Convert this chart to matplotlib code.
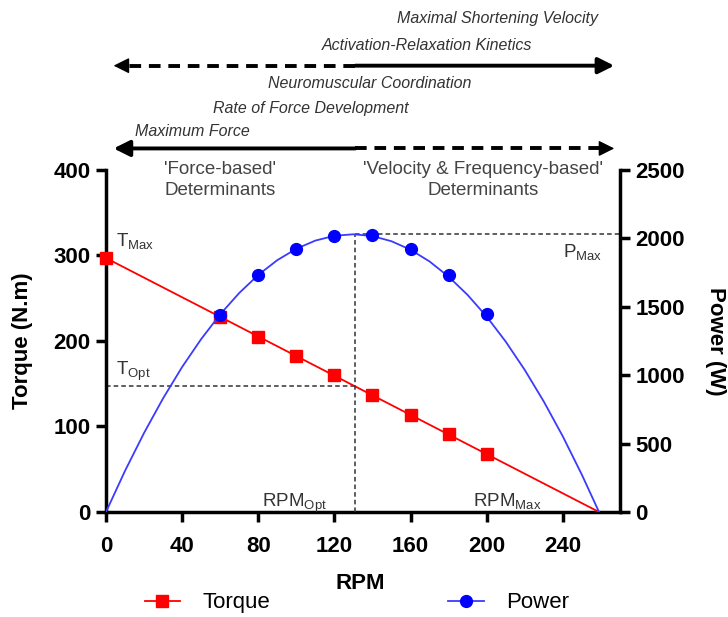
import matplotlib.pyplot as plt
from matplotlib.lines import Line2D
import matplotlib.transforms as mtransforms

plt.rcParams['font.family'] = ['Liberation Sans', 'DejaVu Sans']
plt.rcParams['mathtext.fontset'] = 'custom'
plt.rcParams['mathtext.rm'] = 'Liberation Sans'

# torque (N.m) markers vs RPM
rpm_torque = [0, 60, 80, 100, 120, 140, 160, 180, 200]
torque = [297, 228, 205, 182, 160, 137, 114, 91, 68]
# straight torque-velocity line, T_max -> RPM_max
rpm_torque_line = [0, 259]
torque_line = [297, 0]

# power (W) markers vs RPM
rpm_power = [60, 80, 100, 120, 140, 160, 180, 200]
power = [1440, 1730, 1920, 2020, 2025, 1925, 1730, 1445]

# power curve
rpm_curve = [0, 10, 20, 30, 40, 50, 60, 70, 80, 90, 100, 110, 120, 130,
             140, 150, 160, 170, 180, 190, 200, 210, 220, 230, 240, 250, 259]
power_curve = [0, 301, 578, 831, 1060, 1264, 1445, 1601, 1733, 1841, 1924,
               1984, 2019, 2030, 2017, 1979, 1917, 1831, 1720, 1586, 1428,
               1245, 1038, 807, 552, 272, 0]

t_opt = 147
rpm_opt = 131
p_max = 2030

x_ticks = [0, 40, 80, 120, 160, 200, 240]
torque_ticks = [0, 100, 200, 300, 400]
power_ticks = [0, 500, 1000, 1500, 2000, 2500]

top_labels = ['Maximal Shortening Velocity', 'Activation-Relaxation Kinetics',
              'Neuromuscular Coordination', 'Rate of Force Development',
              'Maximum Force']

fig = plt.figure(figsize=(7.28, 6.17), dpi=100)
ax = fig.add_axes([0.1456, 0.1702, 0.706, 0.5543])
ax2 = ax.twinx()

red = '#ff0000'
blue = '#0000ff'
grey = '#333333'

# torque
ax.plot(rpm_torque_line, torque_line, color=red, lw=1.3, zorder=3)
ax.plot(rpm_torque, torque, 's', color=red, ms=8.5, zorder=4, clip_on=False)

# power
ax2.plot(rpm_curve, power_curve, color='#3b3bff', lw=1.3, zorder=3)
ax2.plot(rpm_power, power, 'o', color=blue, ms=8.5, zorder=5)

# optimum / max guide lines
dash = (0, (3, 2))
ax.plot([0, rpm_opt], [t_opt, t_opt], color=grey, lw=1.1, ls=dash)
ax2.plot([rpm_opt, rpm_opt], [0, p_max], color=grey, lw=1.1, ls=dash)
ax2.plot([rpm_opt, 270], [p_max, p_max], color=grey, lw=1.1, ls=dash)

ax.set_xlim(0, 270)
ax.set_ylim(0, 400)
ax2.set_ylim(0, 2500)
ax.set_xticks(x_ticks)
ax.set_yticks(torque_ticks)
ax2.set_yticks(power_ticks)

for a in (ax, ax2):
    a.spines['top'].set_visible(False)
    for s in a.spines.values():
        s.set_linewidth(2.5)
    a.tick_params(width=2.5, length=7, labelsize=16, pad=4)
    for lab in a.get_xticklabels() + a.get_yticklabels():
        lab.set_fontweight('bold')
ax.spines['right'].set_visible(False)
ax2.spines['left'].set_visible(False)
ax2.spines['bottom'].set_visible(False)
ax.tick_params(axis='x', pad=10)

ax.set_xlabel('RPM', fontsize=16, fontweight='bold')
ax.xaxis.set_label_coords(0.494, -0.178)
ax.set_ylabel('Torque (N.m)', fontsize=16, fontweight='bold')
ax.yaxis.set_label_coords(-0.142, 0.5)
ax2.set_ylabel('Power (W)', fontsize=16, fontweight='bold', rotation=270,
               va='center')
ax2.yaxis.set_label_coords(1.185, 0.5)

# point labels
ax.text(5, 310, r'T$_{\rm Max}$', fontsize=13.5, color=grey)
ax.text(5, 160, r'T$_{\rm Opt}$', fontsize=13.5, color=grey)
ax2.text(240, 1860, r'P$_{\rm Max}$', fontsize=13.5, color=grey)
ax.text(82, 6, r'RPM$_{\rm Opt}$', fontsize=13.5, color=grey)
ax.text(193, 6, r'RPM$_{\rm Max}$', fontsize=13.5, color=grey)

ax.text(60, 410, "'Force-based'\nDeterminants", fontsize=13.5, color='#444444',
        ha='center', va='top', linespacing=1.3)
ax.text(198, 410, "'Velocity & Frequency-based'\nDeterminants", fontsize=13.5,
        color='#444444', ha='center', va='top', linespacing=1.3)

# determinant arrows above the plot
trans = mtransforms.blended_transform_factory(ax.transData, ax.transAxes)


def half_arrow(x0, x1, y, dashed):
    if dashed:
        ax.plot([x0, x1 - (x1 - x0) * 0.03], [y, y], color='black', lw=2.8,
                ls=(0, (3, 2)), transform=trans, clip_on=False)
        ax.annotate('', xy=(x1, y), xytext=(x1 - (x1 - x0) * 0.04, y),
                    xycoords=trans, textcoords=trans,
                    arrowprops=dict(arrowstyle='-|>', color='black', lw=1,
                                    mutation_scale=24, shrinkA=0, shrinkB=0))
    else:
        ax.annotate('', xy=(x1, y), xytext=(x0, y),
                    xycoords=trans, textcoords=trans,
                    arrowprops=dict(arrowstyle='-|>', color='black', lw=2.8,
                                    mutation_scale=24, shrinkA=0, shrinkB=0))


half_arrow(rpm_opt, 4, 1.305, True)
half_arrow(rpm_opt, 267, 1.305, False)
half_arrow(rpm_opt, 4, 1.063, False)
half_arrow(rpm_opt, 267, 1.063, True)

top_pos = [(397, 18), (322, 46), (268, 84), (213, 108), (135, 131)]
for lab, (px, py) in zip(top_labels, top_pos):
    fig.text(px / 728, 1 - py / 617, lab, fontsize=11.5, style='italic',
             color=grey, va='center')

handles = [Line2D([], [], color=red, lw=1.3, marker='s', ms=8.5),
           Line2D([], [], color='#3b3bff', lw=1.3, marker='o', ms=8.5,
                  mfc=blue, mec=blue)]
fig.legend(handles, ['Torque', 'Power'], ncol=2, loc='center',
           bbox_to_anchor=(0.49, 0.023), frameon=False, fontsize=16,
           handlelength=1.6, handletextpad=1.0, columnspacing=8)

fig.savefig('out.png', dpi=100)
